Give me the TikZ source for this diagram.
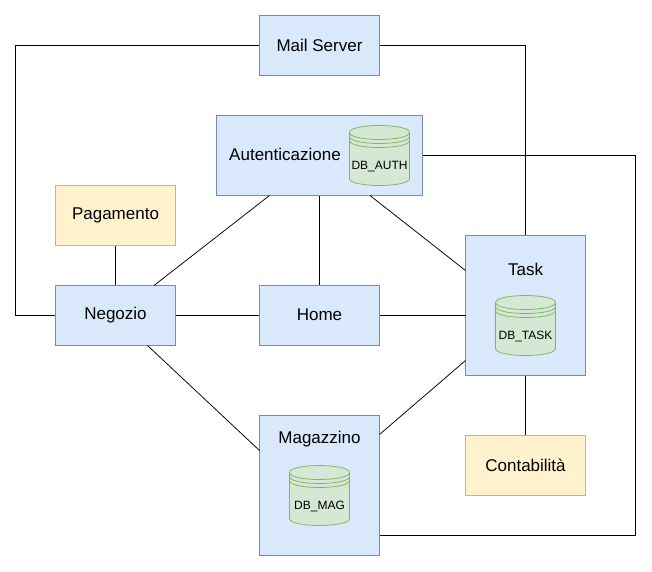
\documentclass[tikz,border=0pt]{standalone}
\usepackage{fontspec}
\setmainfont{Liberation Sans}
\usetikzlibrary{
    positioning
}
\definecolor{bluefill}{HTML}{DAE8FC}
\definecolor{bluedraw}{HTML}{6C8EBF}
\definecolor{yellowfill}{HTML}{FFF2CC}
\definecolor{yellowdraw}{HTML}{D6B656}
\definecolor{greenfill}{HTML}{D5E8D4}
\definecolor{greendraw}{HTML}{82B366}
\tikzset{
    service/.style={draw=bluedraw, fill=bluefill, line width=0.75pt, inner sep=0pt,
        font=\fontsize{17}{19}\selectfont},
    extern/.style={service, draw=yellowdraw, fill=yellowfill},
    caption/.style={inner sep=0pt, font=\fontsize{17}{19}\selectfont},
    link/.style={line width=0.75pt},
    dbcyl/.pic={
        \draw[draw=greendraw, fill=greenfill, line width=0.75pt]
            (-30,-23) .. controls (-30,-32.3) and (30,-32.3) .. (30,-23)
            -- (30,23) .. controls (30,32.3) and (-30,32.3) .. (-30,23) -- cycle;
        \draw[draw=greendraw, line width=0.75pt]
            (-30,-23) .. controls (-30,-13.7) and (30,-13.7) .. (30,-23)
            (-30,-19) .. controls (-30,-9.7) and (30,-9.7) .. (30,-19)
            (-30,-15) .. controls (-30,-5.7) and (30,-5.7) .. (30,-15);
        \node[inner sep=0pt, font=\fontsize{12}{14}\selectfont] (-label) at (0,11) {#1};
    }
}

\begin{document}
\begin{tikzpicture}[x=1pt, y=-1pt]
    \useasboundingbox (0,0) rectangle (652,571);
    \node[service, minimum width=120pt, minimum height=60pt] (mail) at (319.5,45.5) {\raisebox{1pt}{Mail Server}};
    \node[service, minimum width=206pt, minimum height=80pt] (auth) at (319.5,155.5) {};
    \node[extern, minimum width=120pt, minimum height=60pt] (pag) at (115.5,215.5) {\raisebox{1pt}{Pagamento}};
    \node[service, minimum width=120pt, minimum height=60pt] (neg) at (115.5,315.5) {\raisebox{1pt}{Negozio}};
    \node[service, minimum width=120pt, minimum height=60pt] (home) at (319.5,315.5) {\raisebox{1pt}{Home}};
    \node[service, minimum width=120pt, minimum height=140pt] (task) at (525.5,305.5) {};
    \node[service, minimum width=120pt, minimum height=140pt] (mag) at (319.5,485.5) {};
    \node[extern, minimum width=120pt, minimum height=60pt] (cont) at (525.5,465.5) {\raisebox{1pt}{Contabilità}};

    \node[caption] (authtxt) at (285,154.5) {Autenticazione};
    \node[caption] (tasktxt) at (525.5,269) {Task};
    \node[caption] (magtxt) at (319.5,439.5) {Magazzino};

    \pic (dbauth) at (379.5,155.5) {dbcyl={DB\_AUTH}};
    \pic (dbtask) at (525.5,325.5) {dbcyl={DB\_TASK}};
    \pic (dbmag) at (319.5,495.5) {dbcyl={DB\_MAG}};

    % free ends on the box borders
    \coordinate (authsw) at (269.5,195.5);
    \coordinate (authse) at (370,195.5);
    \coordinate (taskul) at (465.5,270.5);
    \coordinate (taskml) at (465.5,315.5);
    \coordinate (taskll) at (465.5,360.5);
    \coordinate (magul) at (259.5,450.5);
    \coordinate (magur) at (379.5,434.5);
    \coordinate (magin) at (379.5,535.5);
    \coordinate (negbr) at (147.5,345.5);
    \coordinate (negtr) at (154,285.5);

    \draw[link] (mail.west) -- (15.5,45.5) -- (15.5,315.5) -- (neg.west);
    \draw[link] (mail.east) -- (525.5,45.5) -- (task.north);
    \draw[link] (auth.east) -- (635.5,155.5) -- (635.5,535.5) -- (magin);
    \draw[link] (auth.south) -- (home.north);
    \draw[link] (authsw) -- (negtr);
    \draw[link] (authse) -- (taskul);
    \draw[link] (pag.south) -- (neg.north);
    \draw[link] (neg.east) -- (home.west);
    \draw[link] (home.east) -- (taskml);
    \draw[link] (negbr) -- (magul);
    \draw[link] (magur) -- (taskll);
    \draw[link] (task.south) -- (cont.north);
\end{tikzpicture}
\end{document}
